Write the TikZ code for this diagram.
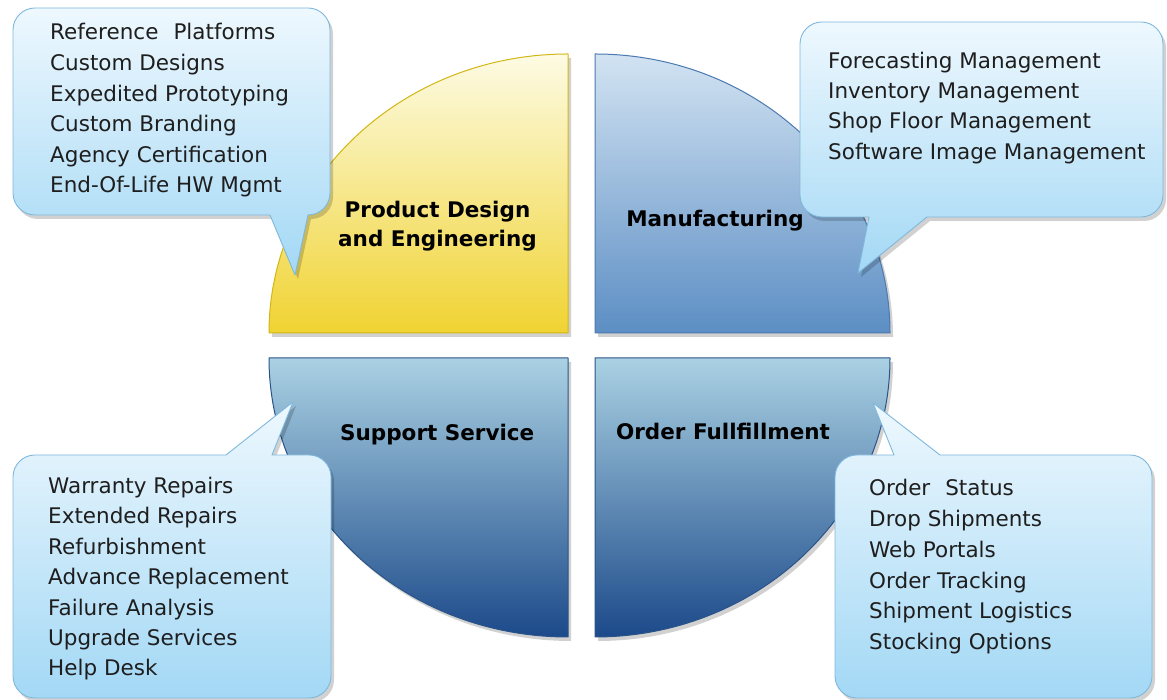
\documentclass[tikz,border=0pt]{standalone}
\usepackage{fontspec}
\setmainfont{DejaVu Sans}
\usetikzlibrary{shadows}
\definecolor{ylTop}{HTML}{FDFBE4}
\definecolor{ylBot}{HTML}{F0D332}
\definecolor{ylLine}{HTML}{D2B614}
\definecolor{mbTop}{HTML}{D2E3F2}
\definecolor{mbBot}{HTML}{5C8EC4}
\definecolor{mbLine}{HTML}{4B79B0}
\definecolor{dbTop}{HTML}{AAD1E3}
\definecolor{dbBot}{HTML}{1C4A8A}
\definecolor{dbLine}{HTML}{2A5488}
\definecolor{cbTop}{HTML}{EEF8FE}
\definecolor{cbBot}{HTML}{A3D8F5}
\definecolor{cbLine}{HTML}{7FB8DC}
\definecolor{txt}{HTML}{1E1E1E}
\begin{document}
\begin{tikzpicture}[x=1pt,y=1pt,
  shadowed/.style={drop shadow={shadow xshift=3pt,shadow yshift=-4pt,opacity=0.18,fill=black}},
  wedge/.style={shadowed,line width=1pt,line join=round},
  bubble/.style={shadowed,draw=cbLine,line width=0.9pt,top color=cbTop,bottom color=cbBot,line join=round},
  item/.style={anchor=base west,inner sep=0pt,text=txt,font=\fontsize{21.5}{26}\selectfont},
  wlabel/.style={anchor=base,inner sep=0pt,text=black,font=\fontsize{21.5}{26}\selectfont\bfseries}]
\useasboundingbox (0,0) rectangle (1167,700);
% quarter wedges
\path[wedge,draw=ylLine,top color=ylTop,bottom color=ylBot]
  (568,367) -- (269,367) arc[start angle=180,end angle=90,x radius=299,y radius=279] -- cycle;
\path[wedge,draw=mbLine,top color=mbTop,bottom color=mbBot]
  (595,367) -- (595,646) arc[start angle=90,end angle=0,x radius=295,y radius=279] -- cycle;
\path[wedge,draw=dbLine,top color=dbTop,bottom color=dbBot]
  (568,342) -- (269,342) arc[start angle=180,end angle=270,x radius=299,y radius=279] -- cycle;
\path[wedge,draw=dbLine,top color=dbTop,bottom color=dbBot]
  (595,342) -- (890,342) arc[start angle=0,end angle=-90,x radius=295,y radius=279] -- cycle;
% callouts
\path[bubble] (35,692) -- (308,692) arc[start angle=90,end angle=0,radius=22]
  -- (330,507) arc[start angle=0,end angle=-90,radius=22]
  -- (295,425) -- (270,485) -- (35,485) arc[start angle=270,end angle=180,radius=22]
  -- (13,670) arc[start angle=180,end angle=90,radius=22] -- cycle;
\path[bubble] (822,678) -- (1141,678) arc[start angle=90,end angle=0,radius=22]
  -- (1163,505) arc[start angle=0,end angle=-90,radius=22]
  -- (927,483) -- (858,427) -- (869,483) -- (822,483) arc[start angle=270,end angle=180,radius=22]
  -- (800,656) arc[start angle=180,end angle=90,radius=22] -- cycle;
\path[bubble] (35,245) -- (226,245) -- (293,298) -- (272,245) -- (309,245)
  arc[start angle=90,end angle=0,radius=22] -- (331,24) arc[start angle=0,end angle=-90,radius=22]
  -- (35,2) arc[start angle=270,end angle=180,radius=22] -- (13,223) arc[start angle=180,end angle=90,radius=22] -- cycle;
\path[bubble] (857,245) -- (894,245) -- (873,297) -- (940,245) -- (1130,245)
  arc[start angle=90,end angle=0,radius=22] -- (1152,24) arc[start angle=0,end angle=-90,radius=22]
  -- (857,2) arc[start angle=270,end angle=180,radius=22] -- (835,223) arc[start angle=180,end angle=90,radius=22] -- cycle;
% wedge labels
\node[wlabel] (pd1) at (437.5,482.7) {Product Design};
\node[wlabel] (pd2) at (437.5,453) {and Engineering};
\node[wlabel] (mf) at (715,473.3) {Manufacturing};
\node[wlabel] (ss) at (437.2,259) {Support Service};
\node[wlabel] (of) at (723,260.7) {Order Fullfillment};
% callout items
\foreach \t [count=\i from 0] in {Reference\hspace{0.7em}Platforms,Custom Designs,Expedited Prototyping,Custom Branding,Agency Certification,End-Of-Life HW Mgmt}
  \node[item] (tl\i) at (50,{660-30.6*\i}) {\t};
\foreach \t [count=\i from 0] in {Forecasting Management,Inventory Management,Shop Floor Management,Software Image Management}
  \node[item] (tr\i) at (828,{631.7-30.33*\i}) {\t};
\foreach \t [count=\i from 0] in {Warranty Repairs,Extended Repairs,Refurbishment,Advance Replacement,Failure Analysis,Upgrade Services,Help Desk}
  \node[item] (bl\i) at (48,{206.7-30.45*\i}) {\t};
\foreach \t [count=\i from 0] in {Order\hspace{0.7em}Status,Drop Shipments,Web Portals,Order Tracking,Shipment Logistics,Stocking Options}
  \node[item] (br\i) at (869,{204-30.67*\i}) {\t};
\end{tikzpicture}
\end{document}
